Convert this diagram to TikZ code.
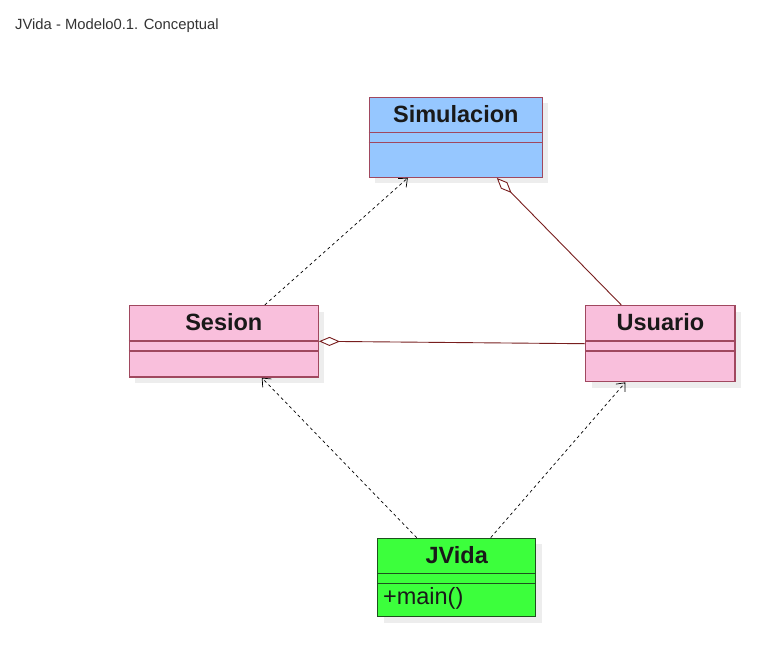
\documentclass[tikz,border=0pt]{standalone}
\usepackage{fontspec}
\setmainfont{Liberation Sans}
\usetikzlibrary{calc,shadows,arrows.meta}
\definecolor{simblue}{RGB}{150,199,255}
\definecolor{classpink}{RGB}{249,191,220}
\definecolor{maingreen}{RGB}{60,255,60}
\definecolor{borderred}{RGB}{160,72,95}
\definecolor{linered}{RGB}{120,30,30}
\definecolor{bordergreen}{RGB}{30,80,30}
\newcommand{\tikzClassNode}[7]{
  \node[draw=#5,fill=#6,line width=1.3pt,rectangle,inner sep=0pt,minimum width=#3,minimum height=#4,
        drop shadow={shadow xshift=6pt,shadow yshift=-6pt,fill=black!7,opacity=1}] (#1) at (#2) {};
  \node[classname] (#1-name) at ([yshift=-25.5pt]#1.north) {#7};
  \path[draw=#5,line width=1.3pt] ([yshift=-36pt]#1.north west) -- ([yshift=-36pt]#1.north east)
                                  ([yshift=-46pt]#1.north west) -- ([yshift=-46pt]#1.north east);
}
\begin{document}
\begin{tikzpicture}[x=1pt, y=-1pt,
  classname/.style={font=\fontsize{23.5}{28}\selectfont\bfseries,text=black!90,inner sep=0pt,anchor=base},
  dep/.style={draw=black,line width=0.7pt,dash pattern=on 3pt off 3pt,-{Straight Barb[length=7pt,width=12pt]}},
  agg/.style={draw=linered,line width=0.9pt,{Diamond[fill=white,length=21pt,width=9pt]}-}]
  \useasboundingbox (0,0) rectangle (775,657);
  \node[anchor=base west,inner sep=0pt,text=black!80,font=\fontsize{14.8}{18}\selectfont] (title) at (15,29) {JVida - Modelo0.1. Conceptual};

  \tikzClassNode{simulacion}{455.8,137.3}{173pt}{80pt}{borderred}{simblue}{Simulacion}
  \tikzClassNode{sesion}{223.8,341.3}{189pt}{71.5pt}{borderred}{classpink}{Sesion}
  \tikzClassNode{usuario}{660.4,343.7}{149.3pt}{76pt}{borderred}{classpink}{Usuario}
  \tikzClassNode{jvida}{456.7,577.5}{158pt}{78.4pt}{bordergreen}{maingreen}{JVida}
  \node[anchor=base west,inner sep=0pt,text=black!90,font=\fontsize{23.5}{28}\selectfont] (jvida-main) at ([xshift=5.8pt,yshift=-66.7pt]jvida.north west) {+main()};

  \path[dep] ([xshift=41pt]sesion.north) -- ([xshift=-48pt]simulacion.south);
  \path[agg] ([xshift=41pt]simulacion.south) -- ([xshift=-39pt]usuario.north);
  \path[agg] (sesion.east) -- (usuario.west);
  \path[dep] ([xshift=-40pt]jvida.north) -- ([xshift=38pt]sesion.south);
  \path[dep] ([xshift=34pt]jvida.north) -- ([xshift=-35pt]usuario.south);
\end{tikzpicture}
\end{document}
